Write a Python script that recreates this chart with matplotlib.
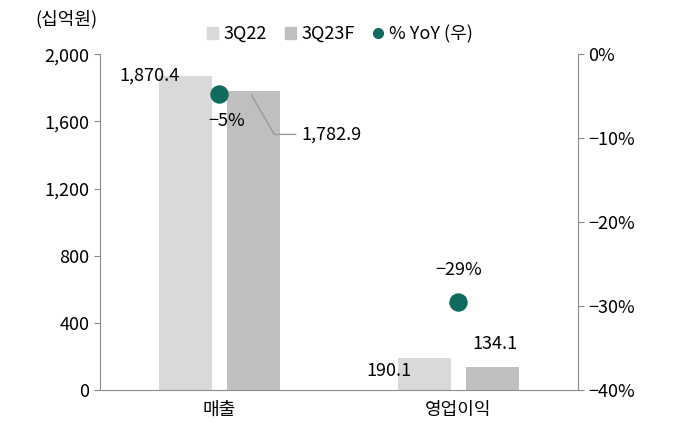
import numpy as np
import matplotlib.pyplot as plt
from matplotlib.lines import Line2D
from matplotlib.patches import Patch

plt.rcParams['font.family'] = ['Noto Sans CJK KR', 'DejaVu Sans']
plt.rcParams['font.weight'] = 'light'
plt.rcParams['axes.unicode_minus'] = False

categories = ['매출', '영업이익']
sales_3q22 = [1870.4, 190.1]
sales_3q23f = [1782.9, 134.1]
yoy = [-4.7, -29.5]
yoy_labels = ['\u22125%', '\u221229%']
left_ticks = [0, 400, 800, 1200, 1600, 2000]
right_ticks = [0, -10, -20, -30, -40]

c22 = '#d9d9d9'
c23 = '#bfbfbf'
cdot = '#0e6b5e'
cspine = '#8c8c8c'
fs = 13

fig = plt.figure(figsize=(6.8, 4.37), dpi=100)
ax = fig.add_axes([0.147, 0.1076, 0.703, 0.768])
ax2 = ax.twinx()

x = np.arange(len(categories))
w = 0.222
off = 0.143
ax.bar(x - off, sales_3q22, w, color=c22, zorder=2)
ax.bar(x + off, sales_3q23f, w, color=c23, zorder=2)
ax.set_xlim(-0.5, 1.5)
ax.set_ylim(0, 2000)
ax.set_yticks(left_ticks)
ax.set_yticklabels([f'{v:,}' for v in left_ticks])
ax.set_xticks(x)
ax.set_xticklabels(categories)

ax2.set_ylim(-40, 0)
ax2.set_yticks(right_ticks)
ax2.set_yticklabels([('\u2212' if v < 0 else '') + f'{abs(v)}%' for v in right_ticks])
ax2.scatter(x, yoy, s=150, color=cdot, zorder=5)

for a in (ax, ax2):
    a.spines['top'].set_visible(False)
    for s in ['left', 'right', 'bottom']:
        a.spines[s].set_color(cspine)
    a.tick_params(labelsize=fs, color=cspine, length=4)
ax.tick_params(axis='x', length=0, pad=8)
ax.spines['right'].set_visible(False)
ax2.spines['left'].set_visible(False)
ax2.spines['bottom'].set_visible(False)

# value labels
ax.text(x[0] - off - 0.15, sales_3q22[0], f'{sales_3q22[0]:,.1f}', ha='center', va='center', fontsize=fs)
ax.annotate(f'{sales_3q23f[0]:,.1f}', xy=(x[0] + off - 0.015, sales_3q23f[0] - 10),
            xytext=(x[0] + off + 0.2, sales_3q23f[0] - 260), fontsize=fs, va='center', ha='left',
            arrowprops=dict(arrowstyle='-', color='#999999', lw=1,
                            connectionstyle='angle,angleA=0,angleB=-60,rad=0'))
ax.text(x[1] - off - 0.15, sales_3q22[1] - 75, f'{sales_3q22[1]:,.1f}', ha='center', va='center', fontsize=fs)
ax.text(x[1] + off + 0.01, sales_3q23f[1] + 140, f'{sales_3q23f[1]:,.1f}', ha='center', va='center', fontsize=fs)

ax2.annotate(yoy_labels[0], xy=(x[0] + 0.01, yoy[0]), xytext=(x[0] + 0.03, yoy[0] - 3.2),
             fontsize=fs, ha='center', va='center',
             arrowprops=dict(arrowstyle='-', color='#999999', lw=1, shrinkA=6, shrinkB=6))
ax2.text(x[1], yoy[1] + 3.8, yoy_labels[1], ha='center', va='center', fontsize=fs)

fig.text(0.052, 0.957, '(십억원)', fontsize=fs, va='center', ha='left')

handles = [Patch(color=c22), Patch(color=c23),
           Line2D([], [], marker='o', ls='', color=cdot, markersize=7)]
fig.legend(handles, ['3Q22', '3Q23F', '% YoY (우)'], loc='center', bbox_to_anchor=(0.5, 0.922),
           ncol=3, frameon=False, fontsize=fs, handlelength=0.6, handleheight=0.6,
           handletextpad=0.3, columnspacing=1.0)

fig.savefig('out.png', dpi=100)
